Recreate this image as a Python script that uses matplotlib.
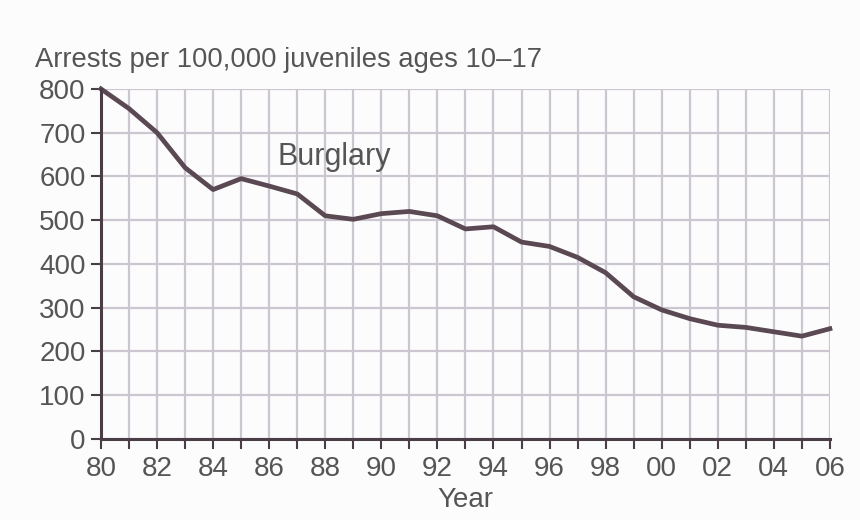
import matplotlib
matplotlib.use("Agg")
import matplotlib.pyplot as plt

years = list(range(1980, 2007))
burglary = [800, 755, 700, 620, 570, 595, 578, 560, 510, 502, 515, 520, 510,
            480, 485, 450, 440, 415, 380, 325, 295, 275, 260, 255, 245, 235, 252]
year_labels = ["80", "82", "84", "86", "88", "90", "92", "94", "96", "98",
               "00", "02", "04", "06"]
y_ticks = [0, 100, 200, 300, 400, 500, 600, 700, 800]

TEXT = "#555555"
LINE = "#5a4852"
GRID = "#cbc6cf"
AXIS = "#4a3e46"

plt.rcParams.update({"font.family": "Liberation Sans"})

fig = plt.figure(figsize=(8.6, 5.2), dpi=100, facecolor="#fcfcfc")
ax = fig.add_axes([0.1174, 0.1558, 0.8476, 0.6732])
ax.set_facecolor("#fcfcfc")

ax.set_xticks(years, minor=False)
ax.set_yticks(y_ticks)
ax.grid(True, color=GRID, lw=1.6, zorder=0)
ax.set_axisbelow(True)

ax.plot(years, burglary, color=LINE, lw=3.4, solid_joinstyle="round",
        zorder=3, clip_on=False)

ax.set_xlim(1980, 2006)
ax.set_ylim(0, 800)
ax.set_xticklabels([year_labels[(y - 1980) // 2] if (y - 1980) % 2 == 0 else ""
                    for y in years])
ax.tick_params(axis="both", colors=AXIS, labelcolor=TEXT, labelsize=20,
               length=7, width=1.5)
ax.tick_params(axis="x", pad=5)
ax.tick_params(axis="y", pad=4)

for side in ("top", "right"):
    ax.spines[side].set_visible(False)
for side in ("left", "bottom"):
    ax.spines[side].set_color(AXIS)
    ax.spines[side].set_linewidth(2.2)
    ax.spines[side].set_zorder(4)

ax.set_xlabel("Year", fontsize=20, color=TEXT, labelpad=4)
fig.text(0.041, 0.884, "Arrests per 100,000 juveniles ages 10\u201317",
         fontsize=19.7, color=TEXT, va="center", ha="left")
ax.text(1986.3, 645, "Burglary", fontsize=22, color=TEXT, va="center")

fig.savefig("out.png", dpi=100, facecolor=fig.get_facecolor())
